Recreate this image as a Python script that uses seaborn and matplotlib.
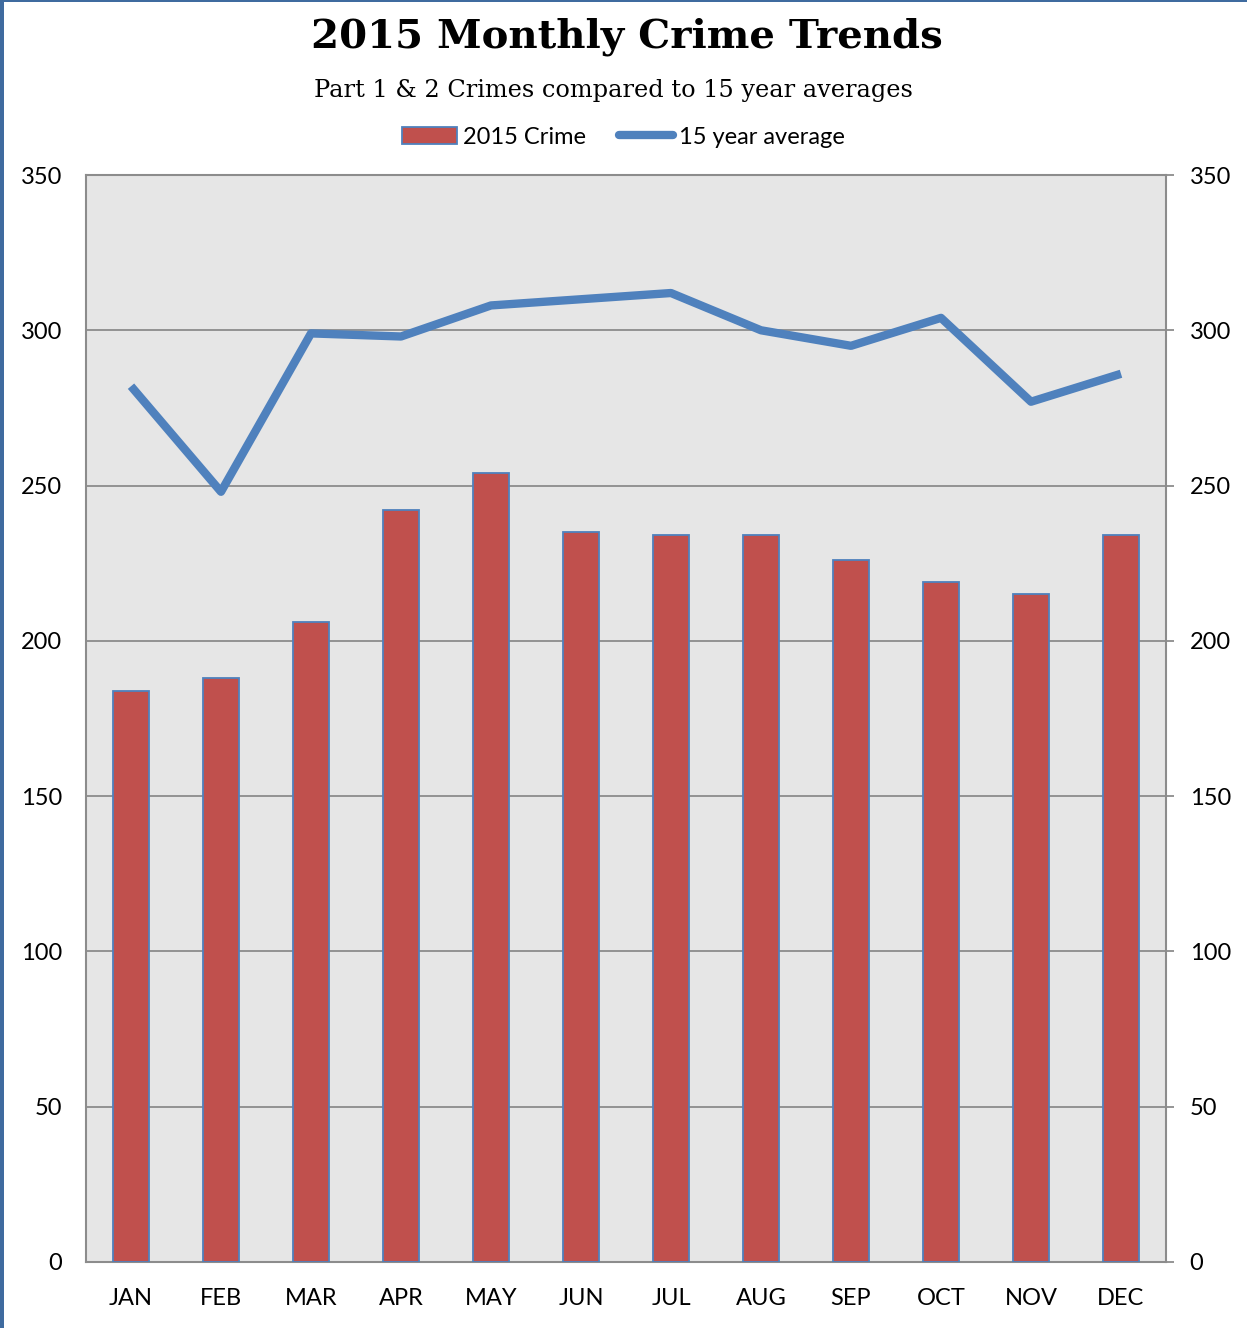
import matplotlib
matplotlib.use("Agg")
import matplotlib.pyplot as plt
import seaborn as sns
import pandas as pd
from matplotlib.patches import Patch, Rectangle
from matplotlib.lines import Line2D

months = ["JAN", "FEB", "MAR", "APR", "MAY", "JUN", "JUL", "AUG", "SEP", "OCT", "NOV", "DEC"]
crime_2015 = [184, 188, 206, 242, 254, 235, 234, 234, 226, 219, 215, 234]
avg_15yr = [282, 248, 299, 298, 308, 310, 312, 300, 295, 304, 277, 286]
yticks = [0, 50, 100, 150, 200, 250, 300, 350]

df = pd.DataFrame({"month": months, "crime": crime_2015, "avg": avg_15yr})

sns.set_style("white")
plt.rcParams["font.family"] = ["Lato", "DejaVu Sans"]
plt.rcParams["text.color"] = "black"
plt.rcParams["xtick.color"] = "black"
plt.rcParams["ytick.color"] = "black"

BAR = "#C0504D"
LINE = "#4F81BD"

fig = plt.figure(figsize=(12.47, 13.28), dpi=100)
ax = fig.add_axes([86 / 1247, 66 / 1328, 1080 / 1247, 1087 / 1328])
ax.set_facecolor("#E6E6E6")

sns.barplot(data=df, x="month", y="crime", ax=ax, color=BAR, saturation=1,
            width=0.41, edgecolor=LINE, linewidth=1.3, zorder=3)
sns.pointplot(data=df, x="month", y="avg", ax=ax, color=LINE, markers="",
              errorbar=None, linewidth=6, zorder=4)
for ln in ax.lines:
    ln.set_solid_capstyle("butt")
    ln.set_solid_joinstyle("round")

ax.set_ylim(0, 350)
ax.set_xlim(-0.5, 11.5)
ax.set_yticks(yticks)
ax.yaxis.grid(True, color="#8C8C8C", linewidth=1.3, zorder=1)
ax.set_axisbelow(True)
ax.set_xlabel("")
ax.set_ylabel("")
for s in ax.spines.values():
    s.set_color("#8C8C8C")
    s.set_linewidth(1.5)
ax.tick_params(axis="y", left=False, right=True, labelleft=True, labelright=True,
               direction="out", length=6, width=1.3, color="#8C8C8C",
               labelcolor="black", labelsize=17, pad=11)
ax.tick_params(axis="x", bottom=False, labelsize=17, pad=15, labelcolor="black")

fig.text(0.503, 1 - 37 / 1328, "2015 Monthly Crime Trends", ha="center", va="center",
         fontsize=29, fontweight="bold", family=["DejaVu Serif"], color="black")
fig.text(0.492, 1 - 90 / 1328, "Part 1 & 2 Crimes compared to 15 year averages",
         ha="center", va="center", fontsize=17.3, family=["DejaVu Serif"], color="black")

handles = [Patch(facecolor=BAR, edgecolor=LINE, linewidth=1.3),
           Line2D([0], [0], color=LINE, linewidth=6, solid_capstyle="round")]
fig.legend(handles, ["2015 Crime", "15 year average"], loc="center",
           bbox_to_anchor=(0.5, 1 - 137 / 1328), ncol=2, frameon=False,
           fontsize=17, handlelength=2.3, handletextpad=0.25, columnspacing=1.4)

fig.patches.append(Rectangle((0, 0), 4 / 1247, 1, transform=fig.transFigure,
                             facecolor="#3F6B9F", edgecolor="none"))
fig.patches.append(Rectangle((0, 1 - 2 / 1328), 1, 2 / 1328, transform=fig.transFigure,
                             facecolor="#3F6B9F", edgecolor="none"))

fig.savefig("out.png", dpi=100)
